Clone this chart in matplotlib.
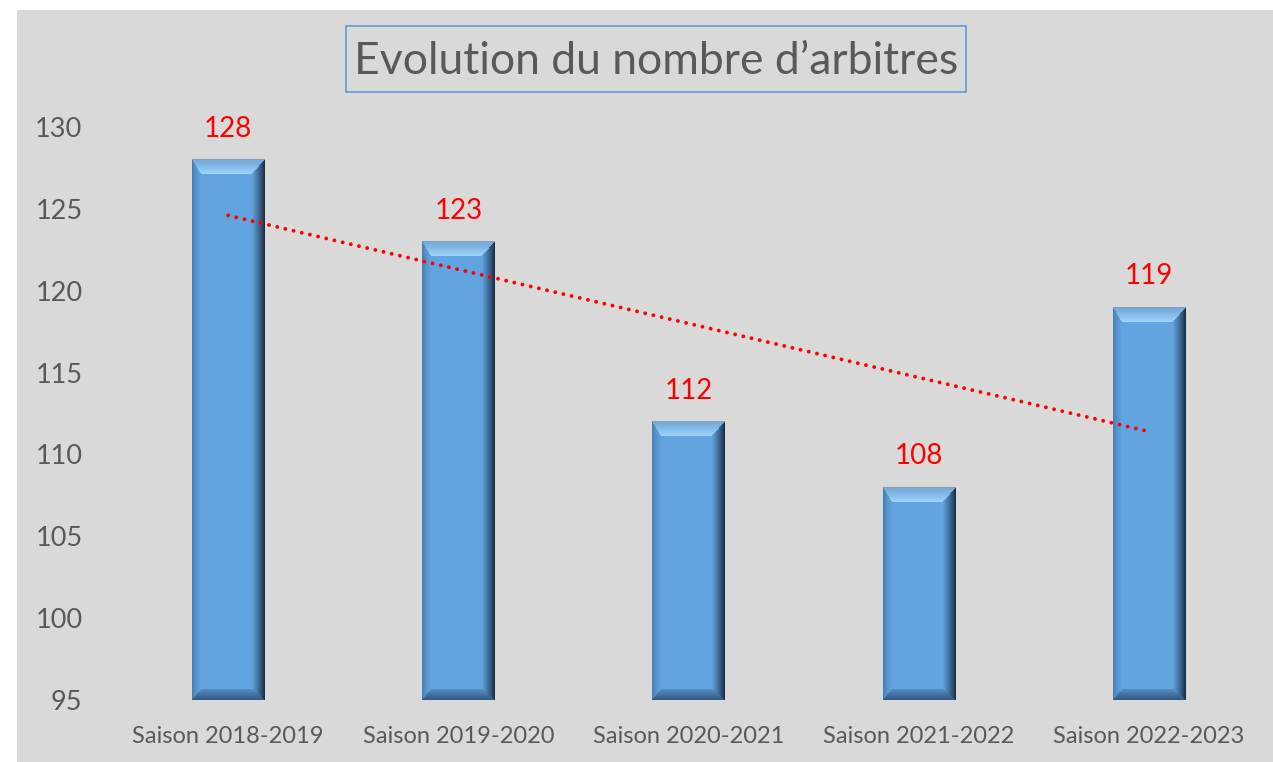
import numpy as np
import matplotlib
matplotlib.use("Agg")
import matplotlib.pyplot as plt
from matplotlib.patches import Rectangle

# ---- data ----
categories = ["Saison 2018-2019", "Saison 2019-2020", "Saison 2020-2021",
              "Saison 2021-2022", "Saison 2022-2023"]
values = [128, 123, 112, 108, 119]
y_ticks = [95, 100, 105, 110, 115, 120, 125, 130]
title = "Evolution du nombre d\u2019arbitres"

plt.rcParams['font.family'] = ['Lato', 'DejaVu Sans']

W_PX, H_PX = 1273, 762
fig = plt.figure(figsize=(W_PX / 100, H_PX / 100), dpi=100)
fig.patch.set_facecolor('white')
fig.add_artist(Rectangle((17 / W_PX, 0), 1 - 17 / W_PX, 1 - 10 / H_PX,
                         transform=fig.transFigure, facecolor='#d9d9d9',
                         edgecolor='none', zorder=-5))

ax = fig.add_axes([113 / W_PX, 62 / H_PX, 1151 / W_PX, 573 / H_PX])
ax.set_zorder(2)
ax.set_facecolor('none')
base = y_ticks[0]
ax.set_xlim(-0.5, len(categories) - 0.5)
ax.set_ylim(base, y_ticks[-1])
for s in ax.spines.values():
    s.set_visible(False)

x = np.arange(len(categories))
ax.set_yticks(y_ticks)
ax.set_xticks(x, categories)
ax.tick_params(axis='y', length=0, pad=22, labelsize=19.5, labelcolor='#595959')
ax.tick_params(axis='x', length=0, pad=19, labelsize=17, labelcolor='#595959')

bars = ax.bar(x, np.array(values) - base, bottom=base, width=0.313,
              color='#62a5e1', edgecolor='none', zorder=2)


def lerp(a, b, t):
    a = np.array(a); b = np.array(b)
    return a + (b - a) * t[..., None]


def bevel_texture(Wp, Hp):
    Wp = max(int(round(Wp)), 4)
    Hp = max(int(round(Hp)), 4)
    r = (np.arange(Hp)[:, None] + 0.5) * np.ones((1, Wp))
    c = (np.arange(Wp)[None, :] + 0.5) * np.ones((Hp, 1))
    bt, bb, bl, br = 15.0, 11.0, 9.0, 13.0
    dt = r / bt
    db = (Hp - r) / bb
    dl = c / bl
    dr = (Wp - c) / br
    stack = np.stack([dt, db, dl, dr])
    idx = np.argmin(stack, axis=0)
    m = np.min(stack, axis=0)
    basec = np.array([0.384, 0.647, 0.882])
    img = np.ones((Hp, Wp, 3)) * basec
    t = np.clip(m, 0, 1)
    top = lerp((0.45, 0.66, 0.86), (0.62, 0.84, 0.98), t ** 1.3)
    bot = lerp((0.20, 0.34, 0.50), (0.33, 0.56, 0.78), t)
    left = lerp((0.26, 0.46, 0.66), basec, t ** 0.6)
    right = lerp((0.08, 0.14, 0.22), basec, t ** 0.8)
    inside = m < 1
    for k, col in enumerate([top, bot, left, right]):
        sel = inside & (idx == k)
        img[sel] = col[sel]
    img[0, :] = (0.55, 0.62, 0.70)
    return img


fig.canvas.draw()
for rect in bars:
    x0, y0 = rect.get_x(), rect.get_y()
    x1, y1 = x0 + rect.get_width(), y0 + rect.get_height()
    (px0, py0), (px1, py1) = ax.transData.transform([(x0, y0), (x1, y1)])
    tex = bevel_texture(px1 - px0, py1 - py0)
    ax.imshow(tex, extent=(x0, x1, y0, y1), aspect='auto',
              interpolation='bilinear', zorder=3)
ax.set_xlim(-0.5, len(categories) - 0.5)
ax.set_ylim(base, y_ticks[-1])
ax.set_aspect('auto')

# linear trendline
coef = np.polyfit(x + 1, values, 1)
tx = np.array([x[0], x[-1]])
ax.plot(tx, np.polyval(coef, tx + 1), color='red', lw=2.8,
        linestyle=(0, (0.01, 2.15)), dash_capstyle='round', zorder=4)

for xi, v in zip(x, values):
    ax.annotate(str(v), (xi, v), xytext=(0, 13), textcoords='offset points',
                ha='center', va='bottom', color='red', fontsize=20, zorder=5)

# title with box
fig.text(656 / W_PX, 1 - 61 / H_PX, title, ha='center', va='center',
         fontsize=32, color='#595959')
fig.add_artist(Rectangle((346 / W_PX, 1 - 92 / H_PX), 620 / W_PX, 66 / H_PX,
                         transform=fig.transFigure, facecolor='none',
                         edgecolor='#5b9bd5', lw=1.2, zorder=3))

fig.savefig("out.png", dpi=100, facecolor=fig.get_facecolor())
